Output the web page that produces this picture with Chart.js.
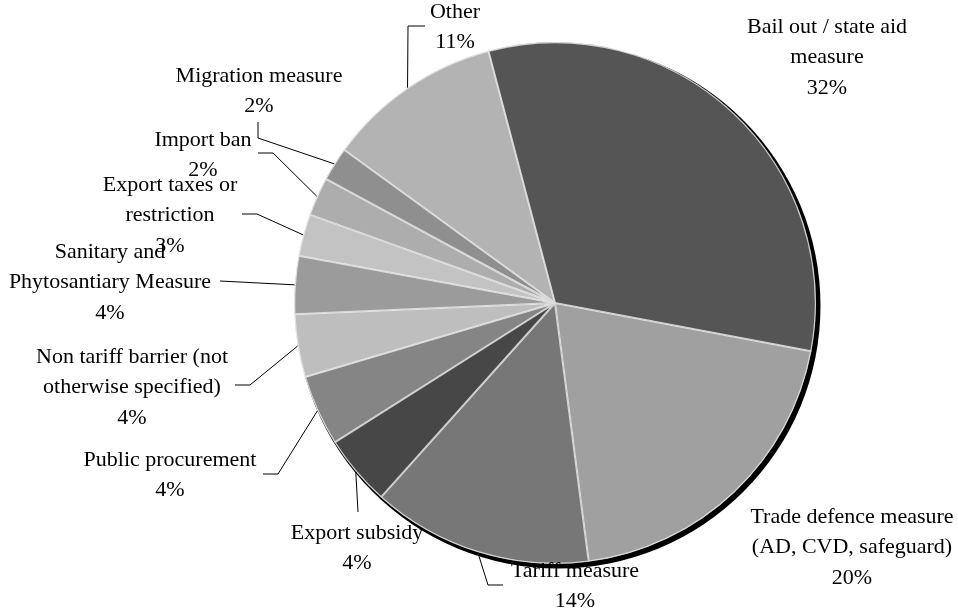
<!DOCTYPE html>
<html>
<head>
<meta charset="utf-8">
<script src="https://cdn.jsdelivr.net/npm/chart.js@4/dist/chart.umd.min.js"></script>
<style>
  body { margin: 0; background: #fff; }
  #wrap { width: 958px; height: 615px; }
</style>
</head>
<body>
<div id="wrap"><canvas id="pie" width="958" height="615"></canvas></div>
<script>
// slice names (wrapped the way the original labels wrap)
const categories = [
    ['Bail out / state aid', 'measure'],
    ['Trade defence measure', '(AD, CVD, safeguard)'],
    ['Tariff measure'],
    ['Export subsidy'],
    ['Public procurement'],
    ['Non tariff barrier (not', 'otherwise specified)'],
    ['Sanitary and', 'Phytosantiary Measure'],
    ['Export taxes or', 'restriction'],
    ['Import ban'],
    ['Migration measure'],
    ['Other']
];
// share of measures, in percent
const shares = [32.1, 20.0, 13.7, 4.4, 4.4, 3.9, 3.6, 2.6, 2.4, 2.1, 10.9];
const greys = ['#555555', '#a0a0a0', '#777777', '#474747', '#858585', '#bebebe',
               '#9b9b9b', '#c3c3c3', '#adadad', '#8f8f8f', '#b3b3b3'];

// where each label sits: text centre x, first line y, and the elbow of its leader line
const labelLayout = [
    { x: 827, y: 27, leader: null },
    { x: 852, y: 517, leader: null },
    { x: 575, y: 571, leader: [[503, 585], [488, 585]] },
    { x: 357, y: 533, leader: [[358, 512]] },
    { x: 170, y: 460, leader: [[263, 474], [278, 474]] },
    { x: 132, y: 357, leader: [[235, 385], [250, 385]] },
    { x: 110, y: 252, leader: [[220, 281]] },
    { x: 170, y: 185, leader: [[242, 214], [257, 214]] },
    { x: 203, y: 140, leader: [[258, 153], [273, 153]] },
    { x: 259, y: 76, leader: [[258, 122], [258, 138]] },
    { x: 455, y: 12, leader: [[425, 26], [408, 26]] }
];
const lineGap = 30.5;

// dark drop edge on the lower right, like the old office chart
const shadowPlugin = {
    id: 'shadow',
    beforeDatasetsDraw(chart) {
        const arc = chart.getDatasetMeta(0).data[0];
        const ctx = chart.ctx;
        ctx.save();
        ctx.fillStyle = '#000';
        ctx.beginPath();
        ctx.arc(arc.x + 3, arc.y + 3, arc.outerRadius + 1.5, 0, Math.PI * 2);
        ctx.fill();
        ctx.restore();
    }
};

const labelPlugin = {
    id: 'pieLabels',
    afterDatasetsDraw(chart) {
        const ctx = chart.ctx;
        const meta = chart.getDatasetMeta(0);
        const total = shares.reduce((a, b) => a + b, 0);
        ctx.save();
        ctx.strokeStyle = '#000';
        ctx.lineWidth = 1;
        meta.data.forEach((arc, i) => {
            const lay = labelLayout[i];
            if (!lay.leader) return;
            const mid = (arc.startAngle + arc.endAngle) / 2;
            const ex = arc.x + Math.cos(mid) * arc.outerRadius;
            const ey = arc.y + Math.sin(mid) * arc.outerRadius;
            ctx.beginPath();
            ctx.moveTo(lay.leader[0][0], lay.leader[0][1]);
            for (let p of lay.leader.slice(1)) ctx.lineTo(p[0], p[1]);
            ctx.lineTo(ex, ey);
            ctx.stroke();
        });
        ctx.font = '22px "Liberation Serif", "Times New Roman", serif';
        ctx.fillStyle = '#000';
        ctx.textAlign = 'center';
        ctx.textBaseline = 'middle';
        categories.forEach((name, i) => {
            const lay = labelLayout[i];
            const lines = name.concat([Math.round(shares[i] / total * 100) + '%']);
            lines.forEach((t, k) => ctx.fillText(t, lay.x, lay.y + k * lineGap));
        });
        ctx.restore();
    }
};

new Chart(document.getElementById('pie'), {
    type: 'pie',
    data: {
        labels: categories,
        datasets: [{
            data: shares,
            backgroundColor: greys,
            borderColor: 'rgba(235,235,235,0.8)',
            borderWidth: 1,
            borderAlign: 'inner'
        }]
    },
    options: {
        responsive: false,
        animation: false,
        rotation: -14.8,
        radius: 261,
        layout: { padding: { top: 42, bottom: 51, left: 294, right: 142 } },
        plugins: {
            legend: { display: false },
            tooltip: { enabled: false }
        }
    },
    plugins: [shadowPlugin, labelPlugin]
});
</script>
</body>
</html>
